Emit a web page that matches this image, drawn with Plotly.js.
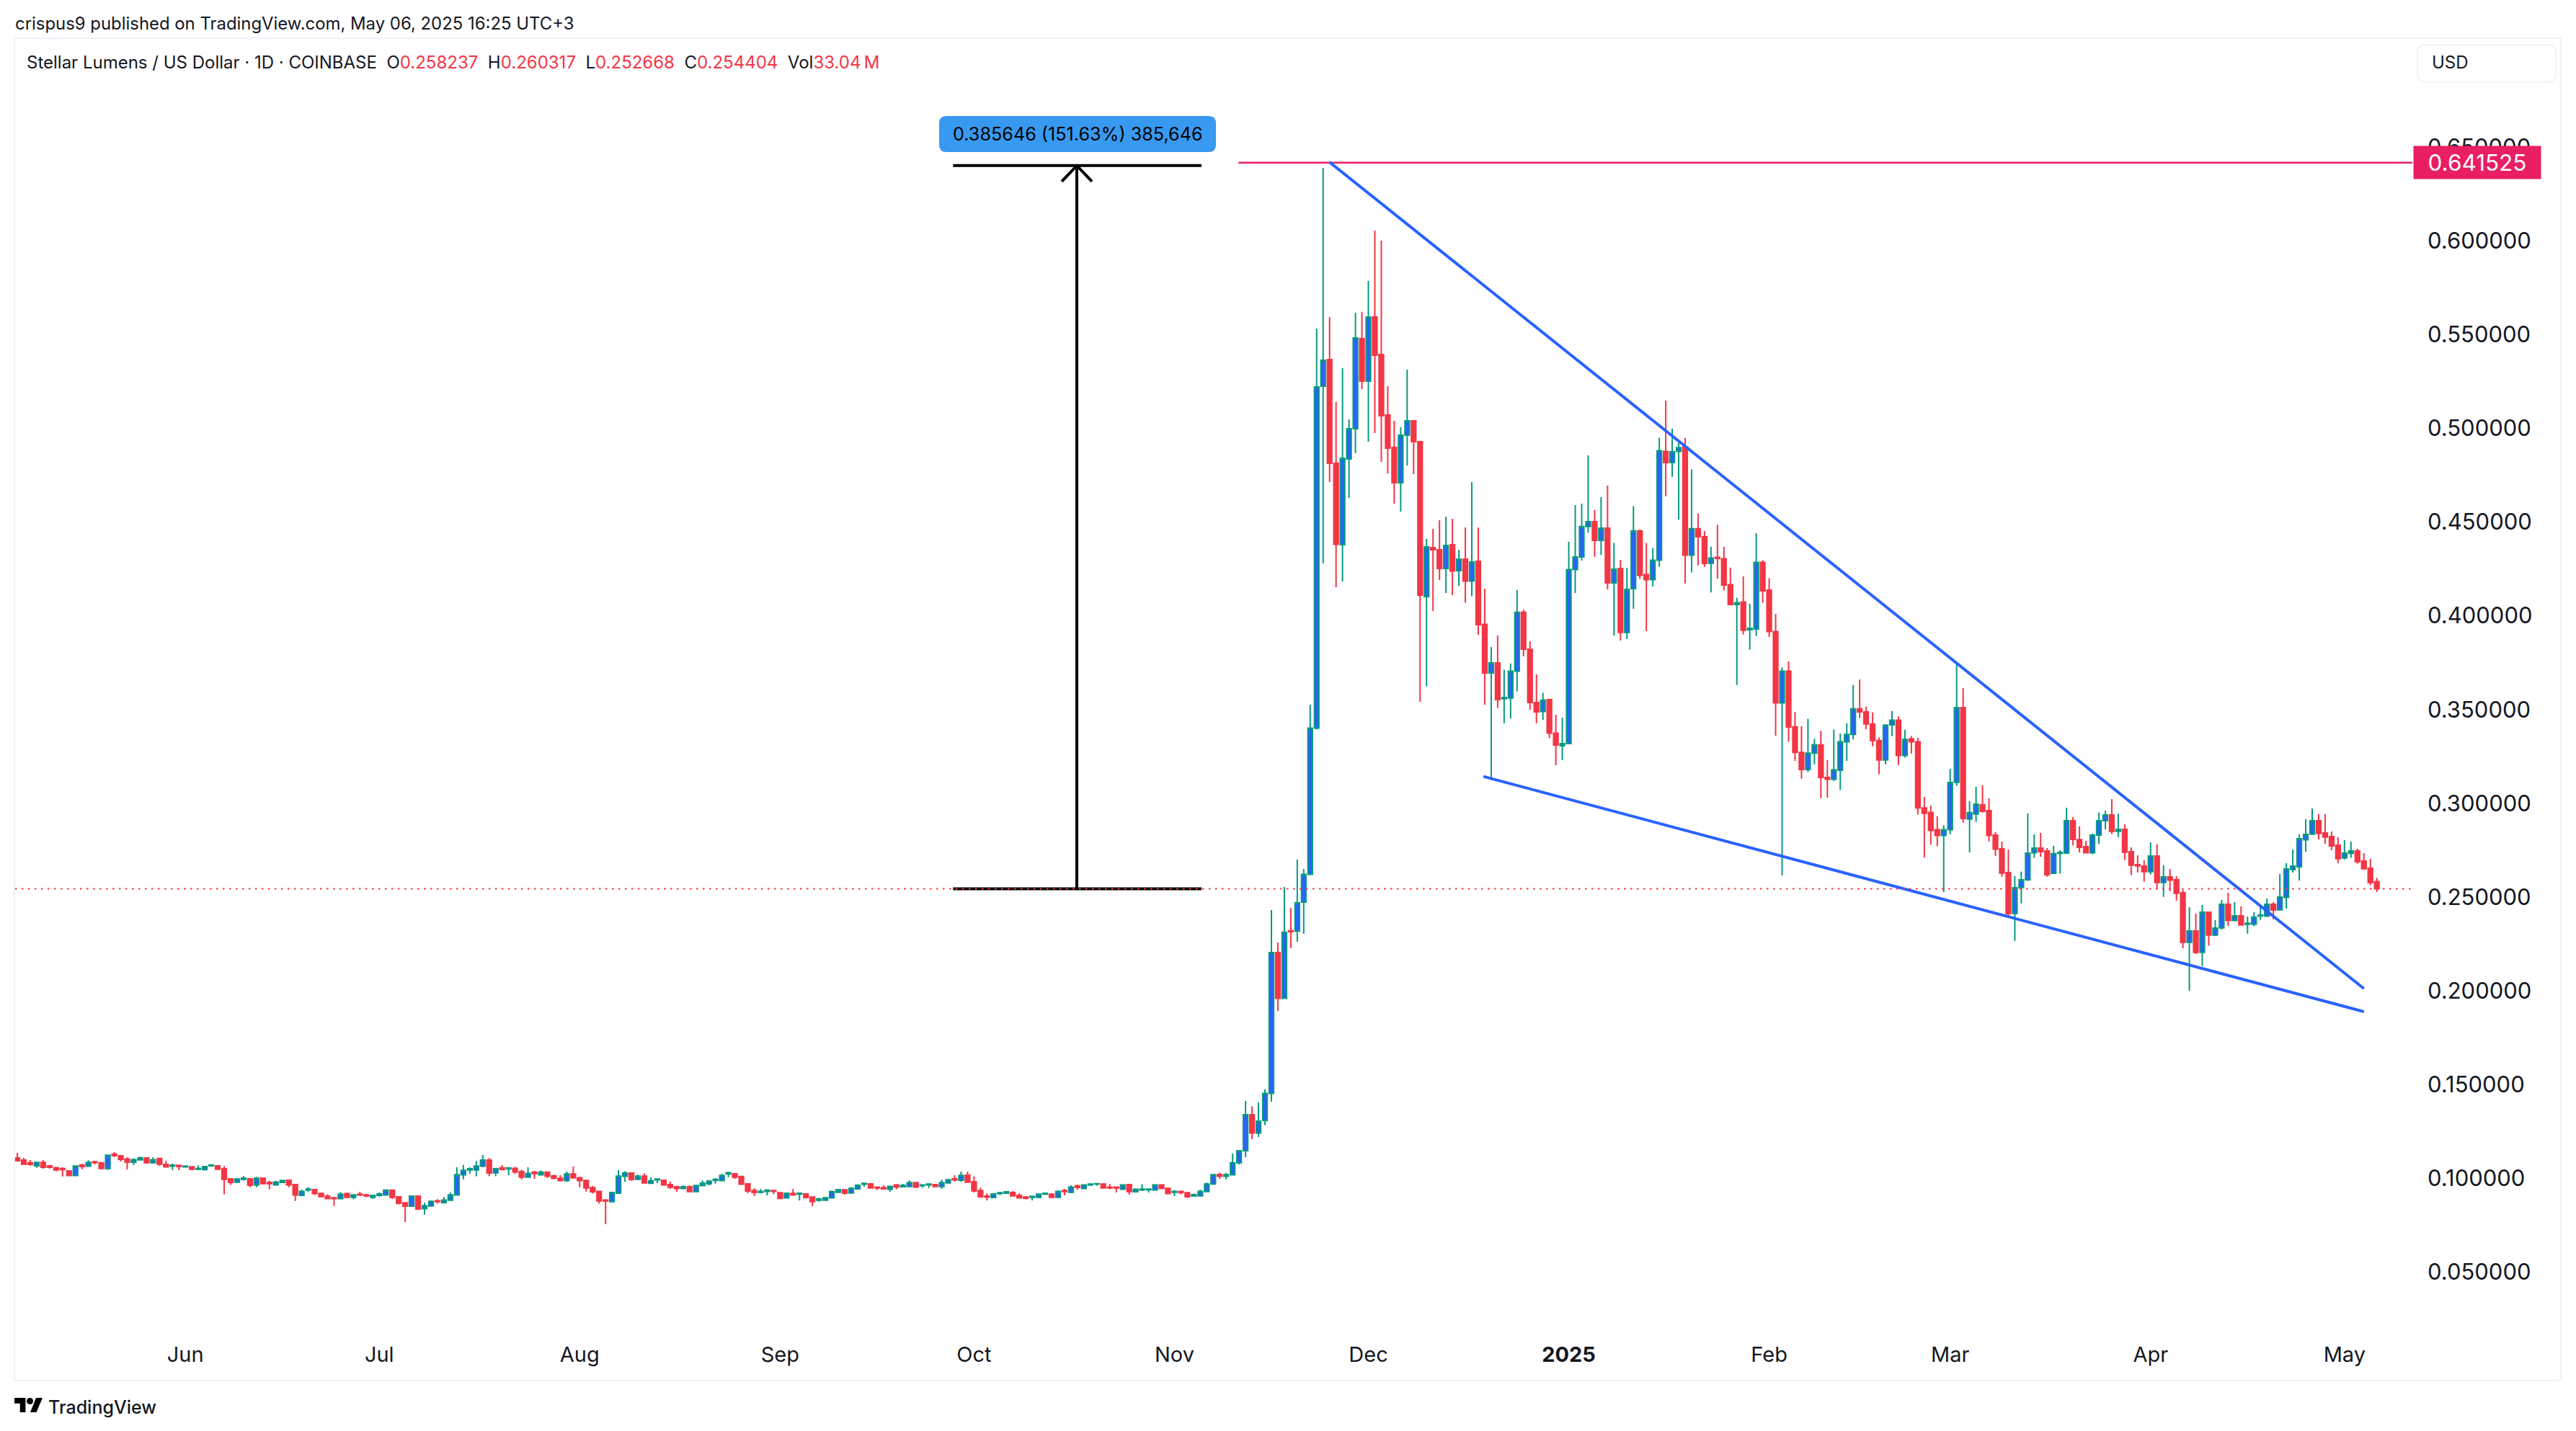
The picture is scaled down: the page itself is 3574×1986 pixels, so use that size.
<!DOCTYPE html>
<html><head><meta charset="utf-8">
<script src="https://cdn.plot.ly/plotly-3.0.1.min.js"></script>
<style>html,body{margin:0;padding:0;background:#fff}</style></head>
<body><div id="chart" style="width:3574px;height:1986px"></div>
<script>
const firstDay = Date.UTC(2024, 4, 6);
const opens = [
0.1109,0.1098,0.1083,0.1067,0.1085,0.1067,0.1056,0.1053,0.1040,0.1015,
0.1071,0.1065,0.1089,0.1083,0.1053,0.1129,0.1121,0.1104,0.1086,0.1099,
0.1109,0.1083,0.1106,0.1075,0.1065,0.1070,0.1061,0.1062,0.1049,0.1047,
0.1067,0.1067,0.1052,0.0998,0.0980,0.0995,0.0998,0.0965,0.1002,0.0979,
0.0965,0.0979,0.0990,0.0967,0.0910,0.0938,0.0940,0.0920,0.0905,0.0897,
0.0892,0.0919,0.0899,0.0916,0.0912,0.0899,0.0910,0.0911,0.0937,0.0902,
0.0870,0.0852,0.0906,0.0838,0.0853,0.0881,0.0871,0.0884,0.0911,0.1019,
0.1045,0.1045,0.1065,0.1098,0.1030,0.1056,0.1051,0.1054,0.1036,0.1007,
0.1033,0.1019,0.1033,0.1013,0.1001,0.0988,0.1024,0.1004,0.0989,0.0951,
0.0931,0.0885,0.0876,0.0921,0.1011,0.1029,0.0995,0.1012,0.0974,0.0992,
0.0990,0.0967,0.0956,0.0946,0.0956,0.0930,0.0961,0.0971,0.0989,0.0988,
0.1024,0.1025,0.1010,0.0971,0.0935,0.0926,0.0931,0.0935,0.0924,0.0896,
0.0920,0.0916,0.0917,0.0901,0.0884,0.0884,0.0896,0.0926,0.0939,0.0922,
0.0944,0.0969,0.0971,0.0954,0.0951,0.0942,0.0965,0.0956,0.0957,0.0978,
0.0961,0.0965,0.0967,0.0957,0.0976,0.0998,0.0990,0.1017,0.0983,0.0935,
0.0906,0.0898,0.0919,0.0921,0.0925,0.0910,0.0901,0.0899,0.0899,0.0916,
0.0916,0.0899,0.0935,0.0926,0.0960,0.0946,0.0965,0.0970,0.0970,0.0954,
0.0954,0.0942,0.0967,0.0929,0.0938,0.0939,0.0938,0.0965,0.0947,0.0926,
0.0931,0.0924,0.0907,0.0907,0.0930,0.0970,0.1021,0.1011,0.1019,0.1083,
0.1148,0.1340,0.1242,0.1309,0.1453,0.2204,0.1960,0.2320,0.2318,0.2473,
0.2621,0.3401,0.5224,0.5366,0.4813,0.4379,0.4836,0.4997,0.5477,0.5251,
0.5593,0.5393,0.5070,0.4897,0.4709,0.4963,0.5039,0.4928,0.4102,0.4363,
0.4352,0.4252,0.4379,0.4240,0.4302,0.4185,0.4290,0.3954,0.3695,0.3749,
0.3557,0.3561,0.3704,0.4018,0.3822,0.3537,0.3489,0.3553,0.3374,0.3307,
0.3318,0.4246,0.4313,0.4476,0.4502,0.4402,0.4467,0.4175,0.4252,0.3911,
0.4144,0.4453,0.4220,0.4192,0.4296,0.4876,0.4817,0.4876,0.4900,0.4323,
0.4464,0.4421,0.4280,0.4311,0.4304,0.4165,0.4060,0.4073,0.3925,0.3929,
0.4284,0.4137,0.3916,0.3535,0.3704,0.3408,0.3271,0.3180,0.3267,0.3312,
0.3138,0.3128,0.3176,0.3328,0.3367,0.3504,0.3487,0.3423,0.3335,0.3231,
0.3418,0.3443,0.3255,0.3343,0.3328,0.2975,0.2951,0.2859,0.2828,0.2859,
0.3112,0.3510,0.2916,0.2943,0.2992,0.2961,0.2830,0.2757,0.2631,0.2413,
0.2551,0.2592,0.2736,0.2761,0.2746,0.2627,0.2732,0.2734,0.2907,0.2806,
0.2769,0.2736,0.2830,0.2907,0.2938,0.2851,0.2861,0.2742,0.2673,0.2665,
0.2635,0.2719,0.2578,0.2608,0.2592,0.2523,0.2259,0.2319,0.2205,0.2419,
0.2297,0.2336,0.2462,0.2375,0.2400,0.2355,0.2355,0.2399,0.2398,0.2462,
0.2432,0.2498,0.2647,0.2661,0.2805,0.2835,0.2907,0.2842,0.2823,0.2777,
0.2708,0.2733,0.2746,0.2692,0.2654,0.258237];
const highs = [
0.1136,0.1109,0.1098,0.1085,0.1098,0.1072,0.1062,0.1059,0.1044,0.1070,
0.1079,0.1097,0.1094,0.1086,0.1125,0.1140,0.1126,0.1113,0.1107,0.1117,
0.1112,0.1113,0.1107,0.1094,0.1079,0.1071,0.1066,0.1066,0.1070,0.1067,
0.1075,0.1070,0.1066,0.1002,0.0997,0.1013,0.1002,0.1008,0.1003,0.0988,
0.0987,0.0990,0.0994,0.0970,0.0940,0.0954,0.0944,0.0920,0.0916,0.0898,
0.0928,0.0925,0.0912,0.0929,0.0917,0.0912,0.0926,0.0942,0.0938,0.0906,
0.0871,0.0910,0.0907,0.0870,0.0883,0.0889,0.0901,0.0925,0.1059,0.1072,
0.1059,0.1094,0.1125,0.1109,0.1056,0.1071,0.1059,0.1062,0.1047,0.1059,
0.1040,0.1043,0.1036,0.1021,0.1017,0.1036,0.1063,0.1008,0.0993,0.0960,
0.0931,0.0889,0.0928,0.1044,0.1038,0.1031,0.1020,0.1027,0.1006,0.0997,
0.0993,0.0983,0.0960,0.0963,0.0963,0.0963,0.0989,0.0992,0.1002,0.1024,
0.1036,0.1029,0.1013,0.0974,0.0948,0.0944,0.0942,0.0937,0.0925,0.0925,
0.0944,0.0925,0.0921,0.0902,0.0897,0.0899,0.0934,0.0944,0.0939,0.0954,
0.0969,0.0976,0.0975,0.0957,0.0963,0.0960,0.0970,0.0971,0.0989,0.0979,
0.0967,0.0970,0.0970,0.0993,0.0993,0.1017,0.1036,0.1036,0.1011,0.0951,
0.0921,0.0921,0.0928,0.0933,0.0933,0.0921,0.0906,0.0906,0.0921,0.0925,
0.0921,0.0937,0.0944,0.0963,0.0967,0.0967,0.0974,0.0975,0.0975,0.0970,
0.0954,0.0967,0.0970,0.0947,0.0970,0.0947,0.0967,0.0967,0.0947,0.0937,
0.0935,0.0925,0.0919,0.0940,0.0979,0.1024,0.1031,0.1031,0.1132,0.1150,
0.1413,0.1384,0.1405,0.1474,0.2431,0.2258,0.2555,0.2442,0.2700,0.2650,
0.3526,0.5531,0.6388,0.5593,0.5139,0.5320,0.5047,0.5616,0.5620,0.5785,
0.6054,0.6000,0.5224,0.5039,0.5005,0.5312,0.5043,0.4932,0.4409,0.4463,
0.4509,0.4528,0.4517,0.4352,0.4471,0.4713,0.4471,0.4144,0.3833,0.3895,
0.3712,0.3746,0.4137,0.4033,0.3864,0.3687,0.3589,0.3557,0.3472,0.3457,
0.4395,0.4590,0.4598,0.4855,0.4565,0.4632,0.4694,0.4388,0.4298,0.4256,
0.4584,0.4460,0.4388,0.4361,0.4949,0.5147,0.4997,0.4920,0.4947,0.4780,
0.4545,0.4452,0.4368,0.4484,0.4368,0.4257,0.4096,0.4210,0.4064,0.4440,
0.4296,0.4200,0.4010,0.3724,0.3756,0.3487,0.3411,0.3451,0.3343,0.3386,
0.3230,0.3392,0.3372,0.3427,0.3630,0.3660,0.3516,0.3484,0.3351,0.3422,
0.3492,0.3463,0.3392,0.3359,0.3349,0.3034,0.2988,0.2931,0.2883,0.3184,
0.3749,0.3614,0.3011,0.3088,0.3096,0.3026,0.2846,0.2796,0.2754,0.2611,
0.2635,0.2946,0.2834,0.2842,0.2761,0.2773,0.2750,0.2976,0.2927,0.2877,
0.2800,0.2838,0.2950,0.2961,0.3022,0.2946,0.2888,0.2765,0.2723,0.2696,
0.2792,0.2781,0.2669,0.2650,0.2611,0.2539,0.2446,0.2412,0.2458,0.2423,
0.2377,0.2485,0.2523,0.2473,0.2450,0.2396,0.2419,0.2446,0.2492,0.2473,
0.2623,0.2681,0.2754,0.2834,0.2915,0.2973,0.2942,0.2942,0.2850,0.2819,
0.2804,0.2796,0.2757,0.2734,0.2704,0.260317];
const lows = [
0.1092,0.1075,0.1067,0.1056,0.1052,0.1052,0.1038,0.1010,0.1013,0.1013,
0.1049,0.1061,0.1075,0.1052,0.1045,0.1113,0.1090,0.1048,0.1072,0.1098,
0.1079,0.1079,0.1067,0.1059,0.1045,0.1044,0.1059,0.1045,0.1044,0.1042,
0.1062,0.1048,0.0915,0.0965,0.0979,0.0988,0.0953,0.0953,0.0971,0.0942,
0.0961,0.0975,0.0953,0.0880,0.0906,0.0929,0.0911,0.0902,0.0890,0.0853,
0.0890,0.0896,0.0888,0.0906,0.0899,0.0890,0.0903,0.0908,0.0890,0.0861,
0.0767,0.0848,0.0833,0.0807,0.0852,0.0866,0.0866,0.0883,0.0910,0.0995,
0.1025,0.1011,0.1059,0.1011,0.1011,0.1042,0.1017,0.1024,0.0995,0.1003,
0.0998,0.1015,0.1003,0.0995,0.0987,0.0983,0.1002,0.0953,0.0930,0.0919,
0.0864,0.0756,0.0875,0.0919,0.0983,0.0987,0.0993,0.0972,0.0971,0.0975,
0.0963,0.0944,0.0929,0.0944,0.0929,0.0929,0.0960,0.0963,0.0972,0.0987,
0.1007,0.0998,0.0967,0.0921,0.0906,0.0920,0.0910,0.0916,0.0890,0.0894,
0.0910,0.0883,0.0896,0.0852,0.0876,0.0883,0.0894,0.0925,0.0913,0.0921,
0.0940,0.0956,0.0946,0.0937,0.0940,0.0929,0.0942,0.0952,0.0956,0.0949,
0.0949,0.0949,0.0956,0.0944,0.0975,0.0983,0.0983,0.0979,0.0925,0.0899,
0.0883,0.0897,0.0911,0.0917,0.0906,0.0893,0.0887,0.0883,0.0898,0.0913,
0.0894,0.0898,0.0910,0.0921,0.0940,0.0944,0.0960,0.0960,0.0948,0.0942,
0.0925,0.0940,0.0913,0.0925,0.0933,0.0925,0.0937,0.0944,0.0917,0.0906,
0.0916,0.0896,0.0903,0.0906,0.0929,0.0969,0.0998,0.0995,0.1015,0.1075,
0.1113,0.1209,0.1221,0.1284,0.1409,0.1893,0.1958,0.2227,0.2262,0.2304,
0.2619,0.3393,0.4280,0.4713,0.4152,0.4183,0.4628,0.4867,0.5208,0.4928,
0.4974,0.4820,0.4759,0.4598,0.4555,0.4801,0.4755,0.3541,0.3624,0.4025,
0.4190,0.4121,0.4110,0.4160,0.4069,0.4104,0.3898,0.3526,0.3124,0.3508,
0.3427,0.3453,0.3597,0.3783,0.3499,0.3427,0.3445,0.3347,0.3203,0.3231,
0.3315,0.4121,0.4294,0.4442,0.4314,0.4325,0.4140,0.3895,0.3868,0.3875,
0.4037,0.4196,0.3918,0.4156,0.4261,0.4636,0.4741,0.4512,0.4172,0.4231,
0.4268,0.4260,0.4124,0.4198,0.4135,0.4058,0.3631,0.3900,0.3820,0.3892,
0.4069,0.3888,0.3361,0.2615,0.3328,0.3226,0.3132,0.3167,0.3208,0.3027,
0.3030,0.3119,0.3071,0.3226,0.3340,0.3455,0.3395,0.3304,0.3155,0.3208,
0.3359,0.3204,0.3243,0.3265,0.2940,0.2710,0.2779,0.2771,0.2527,0.2835,
0.3093,0.2897,0.2738,0.2901,0.2950,0.2797,0.2720,0.2609,0.2397,0.2267,
0.2466,0.2586,0.2709,0.2715,0.2609,0.2625,0.2625,0.2730,0.2776,0.2738,
0.2735,0.2730,0.2782,0.2861,0.2835,0.2820,0.2697,0.2617,0.2632,0.2582,
0.2620,0.2542,0.2501,0.2532,0.2481,0.2227,0.2001,0.2196,0.2132,0.2241,
0.2293,0.2327,0.2346,0.2370,0.2350,0.2305,0.2344,0.2378,0.2397,0.2381,
0.2431,0.2439,0.2631,0.2588,0.2742,0.2834,0.2807,0.2784,0.2750,0.2681,
0.2701,0.2708,0.2678,0.2650,0.2562,0.252668];
const closes = [
0.1094,0.1076,0.1075,0.1085,0.1059,0.1059,0.1045,0.1047,0.1015,0.1066,
0.1063,0.1085,0.1084,0.1053,0.1124,0.1122,0.1102,0.1086,0.1100,0.1109,
0.1083,0.1100,0.1076,0.1061,0.1071,0.1063,0.1066,0.1049,0.1054,0.1063,
0.1072,0.1049,0.0995,0.0979,0.0997,0.1002,0.0963,0.1001,0.0972,0.0972,
0.0981,0.0989,0.0965,0.0911,0.0931,0.0943,0.0919,0.0903,0.0892,0.0892,
0.0916,0.0899,0.0912,0.0911,0.0907,0.0910,0.0917,0.0937,0.0899,0.0867,
0.0852,0.0906,0.0837,0.0855,0.0878,0.0876,0.0885,0.0912,0.1020,0.1043,
0.1052,0.1066,0.1098,0.1029,0.1052,0.1048,0.1056,0.1034,0.1007,0.1027,
0.1026,0.1033,0.1011,0.1001,0.0988,0.1024,0.1003,0.0988,0.0949,0.0929,
0.0880,0.0880,0.0925,0.1012,0.1030,0.0994,0.1012,0.0976,0.0987,0.0997,
0.0965,0.0953,0.0946,0.0956,0.0930,0.0962,0.0975,0.0985,0.0995,0.1016,
0.1031,0.1007,0.0969,0.0933,0.0925,0.0931,0.0937,0.0931,0.0893,0.0921,
0.0911,0.0921,0.0898,0.0876,0.0890,0.0897,0.0931,0.0940,0.0921,0.0947,
0.0963,0.0974,0.0949,0.0949,0.0944,0.0958,0.0954,0.0963,0.0978,0.0954,
0.0965,0.0970,0.0957,0.0978,0.0993,0.0992,0.1016,0.0980,0.0934,0.0902,
0.0901,0.0917,0.0924,0.0929,0.0907,0.0896,0.0894,0.0905,0.0916,0.0921,
0.0899,0.0931,0.0930,0.0954,0.0952,0.0965,0.0970,0.0972,0.0949,0.0949,
0.0949,0.0965,0.0930,0.0942,0.0943,0.0943,0.0965,0.0946,0.0919,0.0931,
0.0924,0.0902,0.0913,0.0931,0.0970,0.1020,0.1011,0.1020,0.1083,0.1148,
0.1340,0.1242,0.1305,0.1453,0.2204,0.1960,0.2313,0.2316,0.2469,0.2621,
0.3401,0.5220,0.5362,0.4813,0.4381,0.4840,0.4997,0.5481,0.5251,0.5593,
0.5389,0.5066,0.4893,0.4709,0.4963,0.5039,0.4928,0.4110,0.4367,0.4352,
0.4252,0.4375,0.4238,0.4302,0.4185,0.4286,0.3952,0.3695,0.3749,0.3553,
0.3564,0.3704,0.4018,0.3822,0.3537,0.3487,0.3550,0.3374,0.3311,0.3318,
0.4246,0.4313,0.4476,0.4502,0.4402,0.4467,0.4175,0.4248,0.3911,0.4140,
0.4453,0.4215,0.4192,0.4296,0.4880,0.4817,0.4874,0.4896,0.4323,0.4464,
0.4421,0.4279,0.4308,0.4306,0.4163,0.4060,0.4069,0.3922,0.3933,0.4284,
0.4133,0.3916,0.3535,0.3704,0.3407,0.3271,0.3180,0.3267,0.3312,0.3138,
0.3128,0.3178,0.3328,0.3367,0.3504,0.3487,0.3423,0.3335,0.3231,0.3416,
0.3443,0.3255,0.3340,0.3328,0.2975,0.2947,0.2855,0.2828,0.2859,0.3111,
0.3510,0.2919,0.2950,0.2996,0.2957,0.2828,0.2755,0.2628,0.2412,0.2550,
0.2592,0.2734,0.2761,0.2742,0.2619,0.2731,0.2738,0.2907,0.2807,0.2765,
0.2736,0.2830,0.2907,0.2938,0.2851,0.2861,0.2739,0.2670,0.2666,0.2635,
0.2719,0.2578,0.2608,0.2590,0.2520,0.2259,0.2319,0.2205,0.2419,0.2297,
0.2335,0.2462,0.2375,0.2400,0.2351,0.2361,0.2393,0.2404,0.2462,0.2431,
0.2500,0.2650,0.2665,0.2811,0.2834,0.2907,0.2839,0.2820,0.2773,0.2705,
0.2734,0.2746,0.2688,0.2651,0.2577,0.254404];

const monthTickDates = ['2024-06-01','2024-07-01','2024-08-01','2024-09-01','2024-10-01','2024-11-01','2024-12-01','2025-01-01','2025-02-01','2025-03-01','2025-04-01','2025-05-01'];
const monthTickText = ['Jun','Jul','Aug','Sep','Oct','Nov','Dec','<b>2025</b>','Feb','Mar','Apr','May'];
const priceTicks = [0.05,0.1,0.15,0.2,0.25,0.3,0.35,0.4,0.45,0.5,0.55,0.6,0.65];
const athPrice = 0.641525, lastClose = 0.254404;
const measureTop = 0.6400;
const upperTrend = [[202.97,0.6419],[363.0,0.2012]];
const lowerTrend = [[226.8,0.3143],[363.0,0.1889]];

const dayAt = d => new Date(firstDay + d*86400000).toISOString().slice(0,19).replace('T',' ');
const dates = opens.map((_, i) => dayAt(i));

// page geometry of the plot rectangle
const W=3574,H=1986,L=21,R=3347,T=54,B=1840;
const px = x => (x-L)/(R-L);
const py = y => (B-y)/(B-T);
const rr = (x0,y0,x1,y1,r) => {
  const p=(x,y)=>px(x)+' '+py(y);
  return 'M'+p(x0+r,y0)+' L'+p(x1-r,y0)+' Q'+p(x1,y0)+' '+p(x1,y0+r)+' L'+p(x1,y1-r)+' Q'+p(x1,y1)+' '+p(x1-r,y1)+' L'+p(x0+r,y1)+' Q'+p(x0,y1)+' '+p(x0,y1-r)+' L'+p(x0,y0+r)+' Q'+p(x0,y0)+' '+p(x0+r,y0)+' Z';
};
const paperShape = o => Object.assign({xref:'paper',yref:'paper',layer:'above'},o);
const dataLine = (d0,p0,d1,p1,color,width,extra) => Object.assign({type:'line',xref:'x',yref:'y',x0:dayAt(d0),y0:p0,x1:dayAt(d1),y1:p1,layer:'above',line:{color,width}},extra||{});
const polyPath = pts => 'M'+pts.map(a=>px(a[0])+' '+py(a[1])).join(' L')+' Z';

const frameColor='#F0F3FA', black='#131722', font='Inter, sans-serif';
const arrowDay=163.9, hd=2.34, hp=0.00845;
const shapes=[
 paperShape({type:'rect',x0:px(20),x1:px(3553),y0:py(1916),y1:py(53),line:{color:frameColor,width:2.5},layer:'below'}),
 paperShape({type:'path',path:rr(3354,62,3546,114,12),line:{color:frameColor,width:2},fillcolor:'#ffffff'}),
 dataLine(188.9,athPrice,370.5,athPrice,'#E91E63',2.5),
 dataLine(144.75,measureTop,183.2,measureTop,'#000000',4),
 dataLine(144.75,lastClose,183.2,lastClose,'#000000',4),
 dataLine(arrowDay,lastClose,arrowDay,measureTop,'#000000',4),
 dataLine(arrowDay-hd,measureTop-hp,arrowDay,measureTop,'#000000',4),
 dataLine(arrowDay+hd,measureTop-hp,arrowDay,measureTop,'#000000',4),
 dataLine(upperTrend[0][0],upperTrend[0][1],upperTrend[1][0],upperTrend[1][1],'#2962FF',4),
 dataLine(lowerTrend[0][0],lowerTrend[0][1],lowerTrend[1][0],lowerTrend[1][1],'#2962FF',4),
 {type:'line',xref:'paper',yref:'y',x0:0,x1:1,y0:lastClose,y1:lastClose,layer:'above',line:{color:'#F23645',width:2,dash:'2.5px,6.5px'}},
 paperShape({type:'path',path:rr(1303,161,1687,211,10),line:{width:0},fillcolor:'#3899F0'}),
 // TradingView mark
 paperShape({type:'path',path:polyPath([[20,1940],[35.4,1940],[35.4,1960],[27.7,1960],[27.7,1947.7],[20,1947.7]]),line:{width:0},fillcolor:'#000000'}),
 paperShape({type:'path',path:polyPath([[50,1940],[59,1940],[50.5,1960],[42,1960]]),line:{width:0},fillcolor:'#000000'}),
 paperShape({type:'circle',x0:px(37),x1:px(46),y0:py(1949),y1:py(1940),line:{width:0},fillcolor:'#000000'})
];
const label=(x,y,text,size,color,anchor,extra)=>Object.assign({xref:'paper',yref:'paper',x:px(x),y:py(y),xanchor:anchor||'left',yanchor:'middle',text,showarrow:false,font:{family:font,size,color},borderpad:0},extra||{});
const red=t=>'<span style="color:#F23645">'+t+'</span>';
const sp='\u00A0\u00A0';
const annotations=[
 label(20,32,'crispus9 published on TradingView.com, May 06, 2025 16:25 UTC+3',23.9,black),
 label(36,86,'Stellar Lumens / US Dollar · 1D · COINBASE'+sp+'O'+red('0.258237')+sp+'H'+red('0.260317')+sp+'L'+red('0.252668')+sp+'C'+red('0.254404')+sp+'Vol'+red('33.04\u2009M'),24,black),
 label(3373,87,'USD',24,black),
 label(1495,186,'0.385646 (151.63%) 385,646',25.2,'#000000','center'),
 label(66,1953,'TradingView',25,black,'left',{font:{family:font,size:25,color:black,weight:500}}),
 {xref:'paper',yref:'y',x:px(3348),y:athPrice,xanchor:'left',yanchor:'middle',text:'0.641525',showarrow:false,font:{family:font,size:31.5,color:'#ffffff'},bgcolor:'#E91E63',width:176,height:45,borderpad:0,align:'center'}
];

Plotly.newPlot('chart',[{
  type:'candlestick',x:dates,open:opens,high:highs,low:lows,close:closes,
  increasing:{line:{color:'#089981',width:2},fillcolor:'#2962FF'},
  decreasing:{line:{color:'#F23645',width:2},fillcolor:'#F23645'},
  whiskerwidth:0,hoverinfo:'none',showlegend:false
}],{
  width:W,height:H,autosize:false,paper_bgcolor:'#fff',plot_bgcolor:'#fff',
  margin:{l:L,r:W-R,t:T,b:H-B,pad:0},showlegend:false,boxgap:0.3,boxgroupgap:0,
  font:{family:font,color:black},
  xaxis:{type:'date',range:[dayAt(-0.3346),dayAt(370.5)],rangeslider:{visible:false},showgrid:false,zeroline:false,showline:false,
    tickmode:'array',tickvals:monthTickDates,ticktext:monthTickText,ticks:'',ticklabelstandoff:20,tickfont:{family:font,size:29,color:black}},
  yaxis:{side:'right',range:[(1895.75-B)/2603,(1895.75-T)/2603],showgrid:false,zeroline:false,showline:false,
    tickmode:'array',tickvals:priceTicks,tickformat:'.6f',ticks:'',ticklabelstandoff:20,tickfont:{family:font,size:31,color:black}},
  shapes,annotations
},{staticPlot:true,displayModeBar:false});
</script></body></html>
